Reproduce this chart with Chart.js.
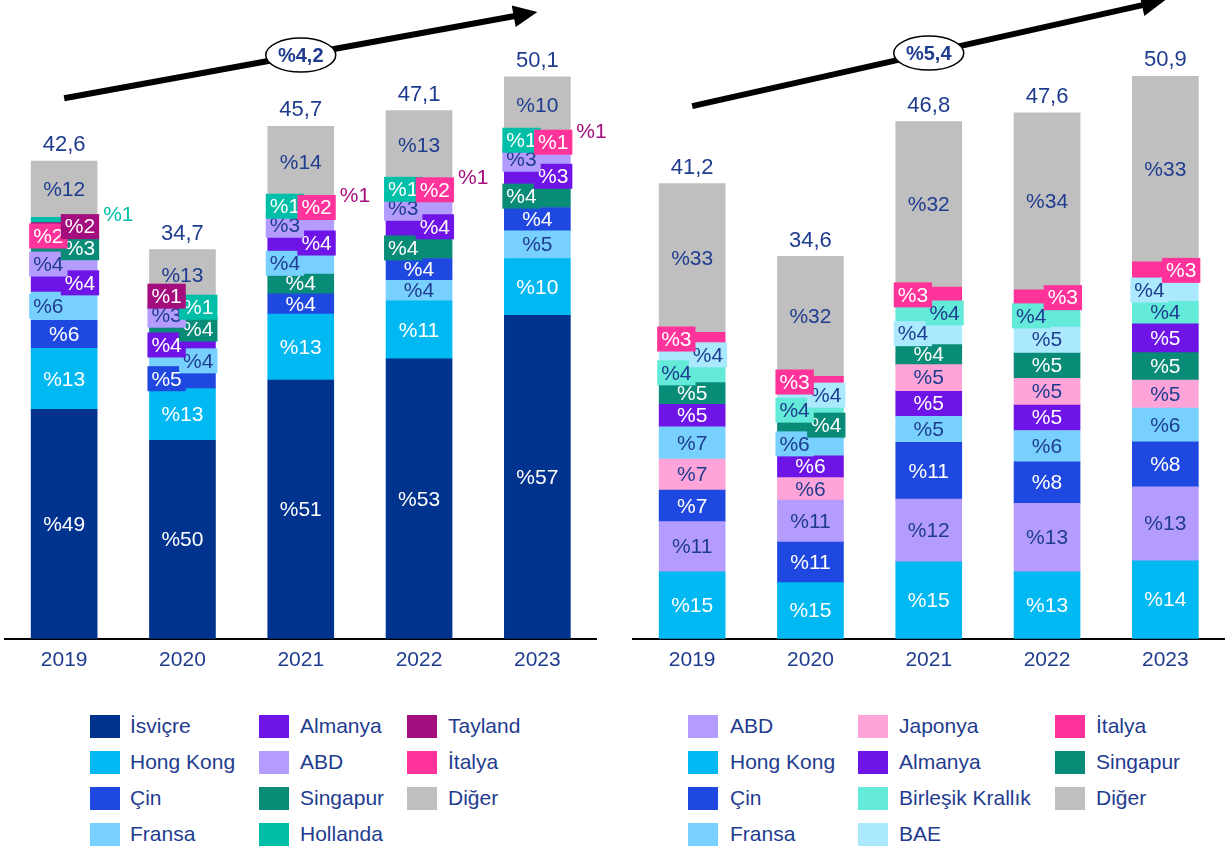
<!DOCTYPE html>
<html>
<head>
<meta charset="utf-8">
<script src="https://cdn.jsdelivr.net/npm/chart.js@4/dist/chart.umd.min.js"></script>
<style>
body { margin:0; background:#fff; width:1230px; height:853px; overflow:hidden; position:relative; font-family:"Liberation Sans", Arial, sans-serif; }
.wrap { position:absolute; top:0; width:615px; height:682px; }
.item { position:absolute; height:24px; line-height:24px; font-size:21px; color:#1f3c8f; white-space:nowrap; }
.sw { position:absolute; width:30px; height:23px; }
</style>
</head>
<body>
<div class="wrap" style="left:0"><canvas id="leftChart" width="615" height="682"></canvas></div>
<div class="wrap" style="left:615px"><canvas id="rightChart" width="615" height="682"></canvas></div>
<div id="legends"></div>
<script>
const years = ['2019', '2020', '2021', '2022', '2023'];

// sol grafik - toplamlar ve paylar (%)
const leftTotals = [42.6, 34.7, 45.7, 47.1, 50.1];
const leftCountries = ['İsviçre', 'Hong Kong', 'Çin', 'Fransa', 'Almanya', 'ABD', 'Singapur', 'Hollanda', 'Tayland', 'İtalya', 'Diğer'];
const lIsvicre  = [49, 50, 51, 53, 57];
const lHongKong = [13, 13, 13, 11, 10];
const lCin      = [6, 5, 4, 4, 4];
const lFransa   = [6, 4, 4, 4, 5];
const lAlmanya  = [4, 4, 4, 4, 3];
const lABD      = [4, 3, 3, 3, 3];
const lSingapur = [3, 4, 4, 4, 4];
const lHollanda = [1, 1, 1, 1, 1];
const lTayland  = [2, 1, 1, 1, 1];
const lItalya   = [2, 0, 2, 2, 1];
const lDiger    = [12, 13, 14, 13, 10];
const leftOrder2019 = ['İsviçre', 'Hong Kong', 'Çin', 'Fransa', 'Almanya', 'ABD', 'Singapur', 'İtalya', 'Tayland', 'Hollanda', 'Diğer'];
const leftOrder2020 = ['İsviçre', 'Hong Kong', 'Çin', 'Fransa', 'Almanya', 'Singapur', 'ABD', 'Hollanda', 'Tayland', 'Diğer'];
const leftOrder2021 = ['İsviçre', 'Hong Kong', 'Çin', 'Singapur', 'Fransa', 'Almanya', 'ABD', 'Hollanda', 'İtalya', 'Tayland', 'Diğer'];
const leftOrder2022 = ['İsviçre', 'Hong Kong', 'Fransa', 'Çin', 'Singapur', 'Almanya', 'ABD', 'Hollanda', 'İtalya', 'Tayland', 'Diğer'];
const leftOrder2023 = ['İsviçre', 'Hong Kong', 'Fransa', 'Çin', 'Singapur', 'Almanya', 'ABD', 'Hollanda', 'İtalya', 'Tayland', 'Diğer'];
const leftGrowth = '%4,2';

// sağ grafik
const rightTotals = [41.2, 34.6, 46.8, 47.6, 50.9];
const rightCountries = ['ABD', 'Hong Kong', 'Çin', 'Fransa', 'Japonya', 'Almanya', 'Birleşik Krallık', 'BAE', 'İtalya', 'Singapur', 'Diğer'];
const rABD      = [11, 11, 12, 13, 13];
const rHongKong = [15, 15, 15, 13, 14];
const rCin      = [7, 11, 11, 8, 8];
const rFransa   = [7, 6, 5, 6, 6];
const rJaponya  = [7, 6, 5, 5, 5];
const rAlmanya  = [5, 6, 5, 5, 5];
const rBK       = [4, 4, 4, 4, 4];
const rBAE      = [4, 4, 4, 5, 4];
const rItalya   = [3, 3, 3, 3, 3];
const rSingapur = [5, 4, 4, 5, 5];
const rDiger    = [33, 32, 32, 34, 33];
const rightOrder2019 = ['Hong Kong', 'ABD', 'Çin', 'Japonya', 'Fransa', 'Almanya', 'Singapur', 'Birleşik Krallık', 'BAE', 'İtalya', 'Diğer'];
const rightOrder2020 = ['Hong Kong', 'Çin', 'ABD', 'Japonya', 'Almanya', 'Fransa', 'Singapur', 'Birleşik Krallık', 'BAE', 'İtalya', 'Diğer'];
const rightOrder2021 = ['Hong Kong', 'ABD', 'Çin', 'Fransa', 'Almanya', 'Japonya', 'Singapur', 'BAE', 'Birleşik Krallık', 'İtalya', 'Diğer'];
const rightOrder2022 = ['Hong Kong', 'ABD', 'Çin', 'Fransa', 'Almanya', 'Japonya', 'Singapur', 'BAE', 'Birleşik Krallık', 'İtalya', 'Diğer'];
const rightOrder2023 = ['Hong Kong', 'ABD', 'Çin', 'Fransa', 'Japonya', 'Singapur', 'Almanya', 'Birleşik Krallık', 'BAE', 'İtalya', 'Diğer'];
const rightGrowth = '%5,4';

// renkler / etiket yerleşimi (C orta, L sol kutu, R sağ kutu, O dışarıda)
const navy = '#1f3c8f';
const FONT = '"Liberation Sans", Arial, sans-serif';
const colors = {
  'İsviçre': '#00338d', 'Hong Kong': '#00b9f2', 'Çin': '#1f48e0', 'Fransa': '#78d0ff',
  'Almanya': '#6e14e6', 'ABD': '#b49cff', 'Singapur': '#088c78', 'Hollanda': '#00bfa8',
  'Tayland': '#a40d7e', 'İtalya': '#ff3399', 'Diğer': '#bfbfbf', 'Japonya': '#ffa4d8',
  'Birleşik Krallık': '#63ead8', 'BAE': '#abe9ff'
};
const textColors = {
  'İsviçre': '#fff', 'Hong Kong': '#fff', 'Çin': '#fff', 'Fransa': navy, 'Almanya': '#fff',
  'ABD': navy, 'Singapur': '#fff', 'Hollanda': '#fff', 'Tayland': '#fff', 'İtalya': '#fff',
  'Diğer': navy, 'Japonya': navy, 'Birleşik Krallık': navy, 'BAE': navy
};
const leftPlace = ['CCCLRLRLROC', 'CCLRLRLRLC', 'CCCCLRLLROC', 'CCCCLRLLROC', 'CCCCLRLLROC'];
const rightPlace = ['CCCCCCCLRLC', 'CCCCCLRLRLC', 'CCCCCCCLRLC', 'CCCCCCCCLRC', 'CCCCCCCCLRC'];

function buildDatasets(countries, series, totals, orders) {
  return countries.map((name, ci) => ({
    label: name,
    backgroundColor: colors[name],
    borderWidth: 0,
    grouped: false,
    barThickness: 66,
    data: totals.map((t, yi) => {
      const sum = series.reduce((s, arr) => s + arr[yi], 0);
      let base = 0;
      for (const n of orders[yi]) {
        const v = t * series[countries.indexOf(n)][yi] / sum;
        if (n === name) return [base, base + v];
        base += v;
      }
      return null;
    })
  }));
}

function labelPlugin(countries, series, totals, orders, places, growth, arrow) {
  return {
    id: 'segLabels',
    afterDatasetsDraw(chart) {
      const ctx = chart.ctx;
      ctx.save();
      ctx.textBaseline = 'middle';
      orders.forEach((order, yi) => {
        const lastTop = { L: Infinity, R: Infinity };
        let barTop = Infinity, barX = 0;
        order.forEach((name, k) => {
          const di = countries.indexOf(name);
          const el = chart.getDatasetMeta(di).data[yi];
          const txt = '%' + series[di][yi];
          const left = el.x - el.width / 2, right = el.x + el.width / 2;
          const top = Math.min(el.y, el.base), bot = Math.max(el.y, el.base);
          barTop = Math.min(barTop, top); barX = el.x;
          const cy = (top + bot) / 2;
          const side = places[yi][k];
          ctx.font = '21px ' + FONT;
          if (side === 'C') {
            ctx.fillStyle = textColors[name]; ctx.textAlign = 'center';
            ctx.fillText(txt, el.x, cy + 1);
          } else if (side === 'O') {
            ctx.fillStyle = colors[name]; ctx.textAlign = 'left';
            ctx.fillText(txt, right + 6, cy - 4);
          } else {
            const w = ctx.measureText(txt).width + 8, h = 25;
            let bTop = cy - h / 2;
            // aynı taraftaki alttaki kutuyla fazla çakışmasın
            if (bTop + h > lastTop[side] + 6) bTop = lastTop[side] - h + 6;
            lastTop[side] = bTop;
            const bx = side === 'L' ? left - 2 : right + 2 - w;
            ctx.fillStyle = colors[name];
            ctx.fillRect(bx, bTop, w, h);
            ctx.fillStyle = textColors[name]; ctx.textAlign = 'center';
            ctx.fillText(txt, bx + w / 2, bTop + h / 2 + 1);
          }
        });
        ctx.font = '22px ' + FONT;
        ctx.fillStyle = navy; ctx.textAlign = 'center';
        ctx.fillText(totals[yi].toFixed(1).replace('.', ','), barX, barTop - 16);
      });

      // büyüme oku
      const xs = chart.scales.x, ys = chart.scales.y;
      const x0 = xs.getPixelForValue(0), x1 = xs.getPixelForValue(4);
      const y0 = ys.getPixelForValue(arrow[0]), y1 = ys.getPixelForValue(arrow[1]);
      const ang = Math.atan2(y1 - y0, x1 - x0);
      const hl = 24, hw = 11;
      ctx.strokeStyle = '#000'; ctx.lineWidth = 6; ctx.lineCap = 'butt';
      ctx.beginPath();
      ctx.moveTo(x0, y0);
      ctx.lineTo(x1 - Math.cos(ang) * (hl - 4), y1 - Math.sin(ang) * (hl - 4));
      ctx.stroke();
      ctx.fillStyle = '#000';
      ctx.beginPath();
      ctx.moveTo(x1, y1);
      ctx.lineTo(x1 - Math.cos(ang) * hl - Math.sin(ang) * hw, y1 - Math.sin(ang) * hl + Math.cos(ang) * hw);
      ctx.lineTo(x1 - Math.cos(ang) * hl + Math.sin(ang) * hw, y1 - Math.sin(ang) * hl - Math.cos(ang) * hw);
      ctx.closePath(); ctx.fill();
      const ex = xs.getPixelForValue(2), ey = y0 + (y1 - y0) * (ex - x0) / (x1 - x0);
      ctx.beginPath();
      ctx.ellipse(ex, ey, 35, 17, 0, 0, Math.PI * 2);
      ctx.fillStyle = '#fff'; ctx.fill();
      ctx.lineWidth = 1.5; ctx.stroke();
      ctx.font = 'bold 20px ' + FONT;
      ctx.fillStyle = navy; ctx.textAlign = 'center';
      ctx.fillText(growth, ex, ey + 1);
      ctx.restore();
    }
  };
}

function makeChart(id, countries, series, totals, orders, places, growth, arrow, pad) {
  return new Chart(document.getElementById(id).getContext('2d'), {
    type: 'bar',
    data: { labels: years, datasets: buildDatasets(countries, series, totals, orders) },
    options: {
      responsive: false,
      animation: false,
      layout: { padding: pad },
      plugins: { legend: { display: false }, tooltip: { enabled: false } },
      scales: {
        x: {
          grid: { display: false, drawTicks: false },
          border: { display: true, color: '#000', width: 2 },
          ticks: { color: navy, font: { size: 21, family: FONT }, padding: 9 }
        },
        y: { display: false, min: 0, max: 55 }
      }
    },
    plugins: [labelPlugin(countries, series, totals, orders, places, growth, arrow)]
  });
}

const leftSeries = [lIsvicre, lHongKong, lCin, lFransa, lAlmanya, lABD, lSingapur, lHollanda, lTayland, lItalya, lDiger];
const rightSeries = [rABD, rHongKong, rCin, rFransa, rJaponya, rAlmanya, rBK, rBAE, rItalya, rSingapur, rDiger];

makeChart('leftChart', leftCountries, leftSeries, leftTotals,
  [leftOrder2019, leftOrder2020, leftOrder2021, leftOrder2022, leftOrder2023],
  leftPlace, leftGrowth, [48.2, 55.9], { left: 5, right: 18.5, top: 22, bottom: 0 });
makeChart('rightChart', rightCountries, rightSeries, rightTotals,
  [rightOrder2019, rightOrder2020, rightOrder2021, rightOrder2022, rightOrder2023],
  rightPlace, rightGrowth, [48.2, 57.8], { left: 18, right: 5.5, top: 31, bottom: 0 });

// lejantlar (sütun sütun, 4 satır)
function buildLegend(countries, swX, txX) {
  const box = document.getElementById('legends');
  const rowY = [726, 762, 798, 834];
  countries.forEach((name, i) => {
    const c = Math.floor(i / 4), r = i % 4;
    const sw = document.createElement('div');
    sw.className = 'sw';
    sw.style.left = swX[c] + 'px'; sw.style.top = (rowY[r] - 11.5) + 'px';
    sw.style.background = colors[name];
    box.appendChild(sw);
    const t = document.createElement('div');
    t.className = 'item';
    t.style.left = txX[c] + 'px'; t.style.top = (rowY[r] - 12) + 'px';
    t.textContent = name;
    box.appendChild(t);
  });
}
buildLegend(leftCountries, [90, 259, 407], [130, 300, 448]);
buildLegend(rightCountries, [688, 858, 1055], [730, 899, 1096]);
</script>
</body>
</html>
